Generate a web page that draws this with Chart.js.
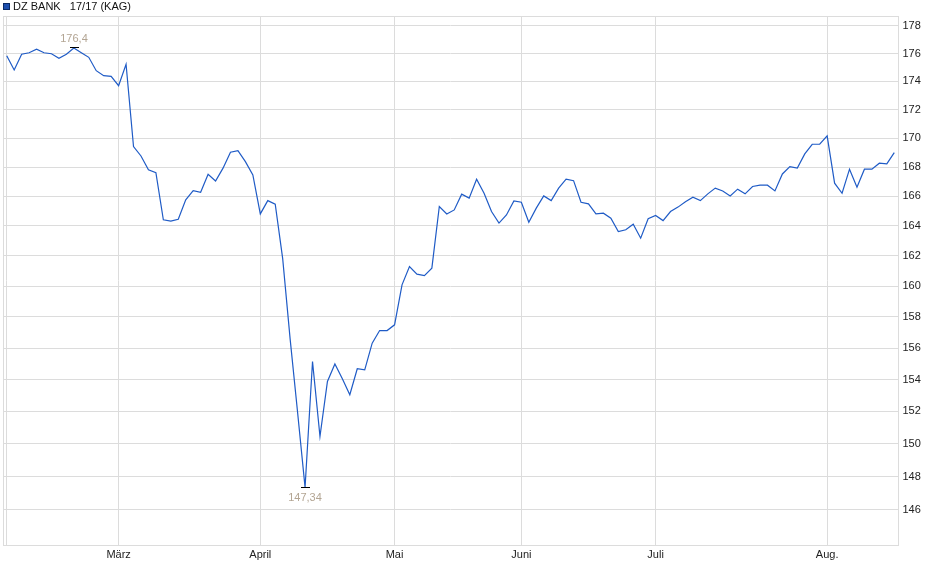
<!DOCTYPE html>
<html>
<head>
<meta charset="utf-8">
<script src="https://cdn.jsdelivr.net/npm/chart.js@4.4.1/dist/chart.umd.min.js"></script>
<style>
  html, body { margin: 0; padding: 0; background: #fff; }
  #wrap { width: 940px; height: 579px; position: relative; }
</style>
</head>
<body>
<div id="wrap"><canvas id="c" width="940" height="579"></canvas></div>
<script>
// ---- data ----
const seriesName = 'DZ BANK   17/17 (KAG)';
const prices = [
  175.85, 174.82, 175.95, 176.06, 176.31, 176.06, 175.99, 175.66, 175.95, 176.40,
  176.06, 175.73, 174.77, 174.41, 174.37, 173.70, 175.23, 169.42, 168.77, 167.81,
  167.62, 164.41, 164.32, 164.45, 165.76, 166.39, 166.28, 167.51, 167.05, 167.93,
  169.03, 169.14, 168.38, 167.47, 164.81, 165.71, 165.47, 161.82, 156.57, 151.93,
  147.34, 155.14, 150.45, 153.88, 154.98, 154.05, 153.04, 154.68, 154.61, 156.31,
  157.12, 157.12, 157.49, 160.09, 161.29, 160.79, 160.70, 161.19, 165.31, 164.81,
  165.08, 166.15, 165.88, 167.17, 166.21, 164.97, 164.19, 164.74, 165.69, 165.60,
  164.25, 165.20, 166.03, 165.71, 166.56, 167.17, 167.07, 165.60, 165.49, 164.81,
  164.86, 164.52, 163.62, 163.74, 164.12, 163.18, 164.48, 164.70, 164.36, 164.97,
  165.27, 165.64, 165.94, 165.71, 166.17, 166.56, 166.37, 166.03, 166.49, 166.17,
  166.67, 166.76, 166.76, 166.37, 167.53, 168.04, 167.93, 168.91, 169.58, 169.58,
  170.16, 166.90, 166.21, 167.86, 166.62, 167.86, 167.86, 168.27, 168.22, 169.00
];
const monthTickIndex = [0, 15, 34, 52, 69, 87, 110];
const monthTickLabels = ['', 'März', 'April', 'Mai', 'Juni', 'Juli', 'Aug.'];
const yTickValues = [146, 148, 150, 152, 154, 156, 158, 160, 162, 164, 166, 168, 170, 172, 174, 176, 178];

// ---- styles ----
const FONT = '"Liberation Sans", Arial, sans-serif';
const GRID = '#dcdcdc';
const LINE = '#1f5bc6';

const frame = {
  id: 'frame',
  beforeDatasetsDraw(chart) {
    const { ctx, chartArea: a } = chart;
    ctx.save();
    ctx.strokeStyle = GRID;
    ctx.lineWidth = 1;
    ctx.strokeRect(Math.round(a.left) + 0.5, Math.round(a.top) + 0.5,
                   Math.round(a.right - a.left), Math.round(a.bottom - a.top));
    ctx.restore();
  }
};

const marks = {
  id: 'marks',
  afterDatasetsDraw(chart) {
    const { ctx } = chart;
    const xs = chart.scales.x, ys = chart.scales.y;
    let iMax = 0, iMin = 0;
    prices.forEach((v, i) => { if (v > prices[iMax]) iMax = i; if (v < prices[iMin]) iMin = i; });
    const fmt = v => v.toLocaleString('de-DE', { maximumFractionDigits: 2 });
    ctx.save();
    ctx.font = '11px ' + FONT;
    ctx.textAlign = 'center';
    ctx.textBaseline = 'middle';
    // max
    let x = Math.round(xs.getPixelForValue(iMax)), y = ys.getPixelForValue(prices[iMax]);
    ctx.fillStyle = '#000';
    ctx.fillRect(x - 4, Math.round(y) - 1, 9, 1);
    ctx.fillStyle = '#b3a593';
    ctx.fillText(fmt(prices[iMax]), x, y - 9.5);
    // min
    x = Math.round(xs.getPixelForValue(iMin)); y = ys.getPixelForValue(prices[iMin]);
    ctx.fillStyle = '#000';
    ctx.fillRect(x - 4, Math.round(y), 9, 1);
    ctx.fillStyle = '#b3a593';
    ctx.fillText(fmt(prices[iMin]), x, y + 10.5);
    ctx.restore();
  }
};

const legendBox = {
  id: 'legendBox',
  afterDraw(chart) {
    const { ctx } = chart;
    ctx.save();
    ctx.fillStyle = '#1d4fae';
    ctx.fillRect(3, 3, 7, 7);
    ctx.strokeStyle = '#0b2a66';
    ctx.lineWidth = 1;
    ctx.strokeRect(3.5, 3.5, 6, 6);
    ctx.fillStyle = '#111';
    ctx.font = '11px ' + FONT;
    ctx.textBaseline = 'middle';
    ctx.textAlign = 'left';
    ctx.fillText(seriesName, 13, 6.5);
    ctx.restore();
  }
};

new Chart(document.getElementById('c'), {
  type: 'line',
  data: {
    datasets: [{
      label: seriesName,
      data: prices.map((v, i) => ({ x: i, y: v })),
      borderColor: LINE,
      borderWidth: 1.2,
      pointRadius: 0,
      tension: 0,
      fill: false
    }]
  },
  options: {
    responsive: false,
    animation: false,
    layout: { padding: { left: 3, top: 16, right: 0, bottom: 0 } },
    plugins: { legend: { display: false }, tooltip: { enabled: false } },
    scales: {
      x: {
        type: 'linear',
        position: 'bottom',
        min: -0.5,
        max: 119.5,
        afterBuildTicks: s => { s.ticks = monthTickIndex.map(v => ({ value: v })); },
        afterFit: s => { s.height = 34; },
        ticks: {
          autoSkip: false,
          maxRotation: 0,
          padding: 3,
          color: '#222',
          font: { family: FONT, size: 11 },
          callback: v => monthTickLabels[monthTickIndex.indexOf(v)]
        },
        grid: { color: GRID, lineWidth: 1, drawTicks: false },
        border: { display: true, color: GRID }
      },
      y: {
        type: 'logarithmic',
        position: 'right',
        min: 143.905,
        max: 178.73,
        afterBuildTicks: s => { s.ticks = yTickValues.map(v => ({ value: v })); },
        afterFit: s => { s.width = 42; },
        ticks: {
          padding: 4.5,
          color: '#222',
          font: { family: FONT, size: 11 },
          callback: v => String(v)
        },
        grid: { color: GRID, lineWidth: 1, drawTicks: false },
        border: { display: true, color: GRID }
      }
    }
  },
  plugins: [frame, marks, legendBox]
});
</script>
</body>
</html>
